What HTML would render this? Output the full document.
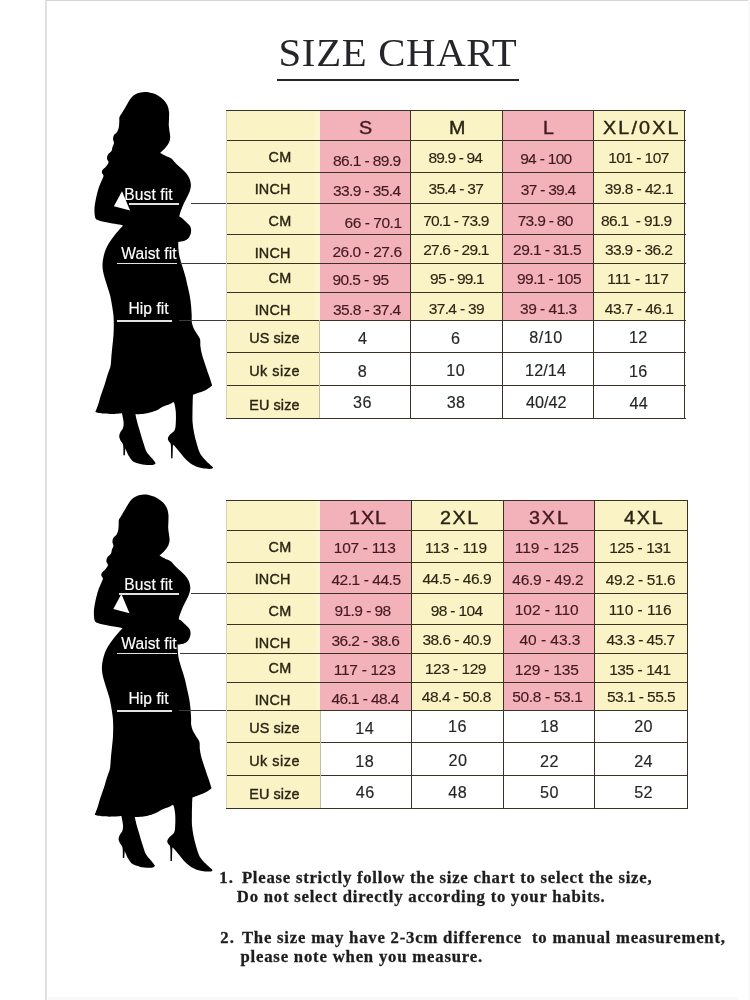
<!DOCTYPE html>
<html lang="en"><head><meta charset="utf-8"><title>Size Chart</title>
<style>
html,body{margin:0;padding:0;background:#fff}
body{width:750px;height:1000px;position:relative;overflow:hidden;font-family:"Liberation Sans",sans-serif}
#frame{position:absolute;left:45.2px;top:0;width:704.8px;height:1000px;border-left:2px solid #e1e1e1;border-top:1px solid #d6d6d6;box-sizing:border-box}
#fr{position:absolute;left:748px;top:0;width:2px;height:1000px;background:#f8f8f8}
#fb{position:absolute;left:48px;top:997px;width:690px;height:3px;background:#f9f9f9}
.f,.l,.t{position:absolute}
.l{background:#3a3226}
.t{white-space:nowrap;line-height:1;margin:0;padding:0}
.ttl{font-family:"Liberation Serif",serif;font-size:40.8px;color:#26262a}
.nt{font-family:"Liberation Serif",serif;font-weight:bold;font-size:16.7px;color:#1d1d1d;-webkit-text-stroke:0.3px #1d1d1d}
.sl{font-size:15.6px;color:#fff;-webkit-text-stroke:0.15px #fff}
.hd{font-size:18.8px;color:#2a2415;-webkit-text-stroke:0.4px currentColor}
.lb{font-size:14.4px;color:#2a2415;-webkit-text-stroke:0.4px #2a2415}
.dv{font-size:15.5px;color:#2d2614;-webkit-text-stroke:0.15px currentColor}
.dw{font-size:16.2px;color:#262626;-webkit-text-stroke:0.15px currentColor}
.p{color:#431a22}
.w{color:#222}
svg{position:absolute;left:0;top:0}
</style></head><body>
<div id="frame"></div><div id="fr"></div><div id="fb"></div>

<div class="l" style="left:276.8px;top:79.1px;width:242px;height:1.7px;background:#26262a"></div>
<svg width="750" height="1000" viewBox="0 0 750 1000">
<defs><path id="sil" fill-rule="evenodd" d="M144.5 91.9C147.0 91.8 149.6 92.4 151.9 93.0C154.2 93.6 156.3 94.5 158.3 95.7C160.3 96.9 162.2 98.3 163.7 99.9C165.2 101.5 166.5 103.3 167.4 105.3C168.3 107.3 168.7 109.4 169.0 111.7C169.3 114.0 169.0 116.8 169.0 119.1C169.0 121.4 168.7 123.4 168.8 125.5C168.9 127.6 169.4 129.9 169.6 131.9C169.8 133.9 170.3 135.6 170.2 137.4C170.1 139.2 169.7 141.1 168.9 142.8C168.1 144.5 166.8 146.1 165.6 147.6C164.4 149.1 162.5 150.7 161.6 151.6C160.7 152.5 160.2 153.0 160.2 153.0C160.2 153.0 163.6 154.8 165.4 155.7C167.2 156.6 169.8 157.5 171.3 158.6C172.8 159.7 173.4 160.9 174.5 162.0C175.6 163.1 176.3 163.8 177.6 165.0C178.8 166.2 180.6 167.7 182.0 169.0C183.4 170.3 184.8 171.6 186.0 173.0C187.2 174.4 188.2 176.0 189.0 177.5C189.8 179.0 190.2 180.6 190.5 182.0C190.8 183.4 191.0 184.7 190.9 186.0C190.8 187.3 190.5 188.7 190.1 190.0C189.7 191.3 189.3 192.5 188.6 194.0C187.9 195.5 186.9 197.3 186.1 199.0C185.3 200.7 184.3 202.3 183.6 204.0C182.8 205.7 182.2 207.5 181.6 209.0C181.0 210.5 180.5 211.7 180.1 213.0C179.7 214.3 179.3 216.6 179.3 216.6C179.3 216.6 181.8 218.0 183.0 219.0C184.2 220.0 185.4 221.3 186.6 222.5C187.8 223.7 189.2 224.8 190.0 226.0C190.8 227.2 191.0 228.7 191.1 230.0C191.2 231.3 191.0 232.7 190.6 234.0C190.2 235.3 189.5 236.9 188.6 238.0C187.7 239.1 186.3 240.0 185.0 240.6C183.7 241.2 182.1 241.4 181.0 241.6C179.9 241.8 178.3 242.0 178.3 242.0C178.3 242.0 178.2 244.0 178.3 246.0C178.4 248.0 178.6 251.3 179.0 254.0C179.4 256.7 180.3 259.6 181.0 262.0C181.7 264.4 182.3 266.0 183.0 268.4C183.7 270.8 184.6 273.5 185.4 276.4C186.2 279.3 186.9 282.9 187.6 286.0C188.3 289.1 189.0 291.8 189.6 295.0C190.2 298.2 190.7 301.7 191.0 305.0C191.3 308.3 191.6 312.2 191.7 315.0C191.8 317.8 191.5 319.8 191.8 322.0C192.1 324.2 192.6 326.0 193.5 328.0C194.4 330.0 195.9 332.2 197.0 334.0C198.1 335.8 199.4 337.0 200.0 339.0C200.6 341.0 200.1 343.7 200.4 346.0C200.7 348.3 201.0 350.5 201.6 353.0C202.2 355.5 203.1 358.2 204.0 361.0C204.9 363.8 206.1 367.2 207.0 370.0C207.9 372.8 208.7 374.9 209.6 377.5C210.5 380.1 212.2 385.5 212.2 385.5C212.2 385.5 208.8 388.2 206.7 389.4C204.5 390.6 201.6 391.7 199.3 392.6C197.0 393.5 193.0 394.8 193.0 394.8C193.0 394.8 192.8 399.1 192.7 402.0C192.6 404.9 192.5 408.6 192.5 412.0C192.5 415.4 192.3 419.0 192.6 422.5C192.9 426.0 193.4 429.5 194.1 433.0C194.8 436.5 195.6 440.0 196.7 443.5C197.8 447.0 198.7 451.0 200.4 454.0C202.1 457.0 204.6 459.2 206.7 461.4C208.8 463.6 213.1 467.2 213.1 467.2C213.1 467.2 213.2 468.6 211.4 468.8C209.6 469.0 205.4 468.9 202.5 468.3C199.6 467.8 196.7 466.8 194.1 465.5C191.5 464.2 189.0 462.4 186.7 460.3C184.4 458.2 182.3 455.3 180.4 453.0C178.5 450.7 176.4 448.1 175.2 446.7C173.9 445.3 172.9 444.7 172.9 444.7C172.9 444.7 172.6 458.2 172.6 458.2C172.6 458.2 171.1 458.2 171.1 458.2C171.1 458.2 171.2 447.4 170.8 444.6C170.4 441.8 169.4 442.4 168.9 441.4C168.4 440.3 167.7 439.4 167.9 438.3C168.1 437.2 168.9 436.0 170.0 434.6C171.1 433.2 173.7 431.9 174.7 429.9C175.7 427.9 175.6 425.5 175.8 422.5C176.0 419.5 176.0 415.0 175.8 412.0C175.6 409.0 175.1 406.4 174.7 404.7C174.3 403.0 173.6 402.0 173.6 402.0C173.6 402.0 170.7 403.8 168.9 404.6C167.1 405.4 164.3 406.0 162.6 406.8C160.8 407.6 160.0 408.6 158.4 409.4C156.8 410.2 154.8 411.0 153.2 411.6C151.5 412.2 150.3 412.6 148.5 413.0C146.7 413.4 144.7 413.9 142.5 414.1C140.3 414.3 135.4 414.3 135.4 414.3C135.4 414.3 136.5 419.4 137.3 422.5C138.1 425.6 139.4 429.5 140.4 433.0C141.4 436.5 142.6 440.4 143.6 443.5C144.6 446.6 145.3 449.4 146.7 451.9C148.1 454.3 150.5 456.4 152.0 458.2C153.5 460.0 155.6 462.9 155.6 462.9C155.6 462.9 155.2 464.1 154.1 464.5C153.0 464.9 151.1 465.1 148.8 465.0C146.5 464.9 143.0 464.6 140.4 464.0C137.8 463.4 135.0 462.7 133.1 461.4C131.2 460.1 130.2 458.3 128.9 456.1C127.6 453.9 125.3 448.2 125.3 448.2C125.3 448.2 124.9 455.2 124.9 455.2C124.9 455.2 123.4 455.2 123.4 455.2C123.4 455.2 123.6 447.6 123.1 445.1C122.6 442.6 121.2 441.9 120.5 440.4C119.8 438.9 119.2 437.6 119.2 436.2C119.2 434.8 119.8 433.4 120.5 432.0C121.2 430.6 122.6 429.4 123.1 427.8C123.6 426.2 123.7 424.4 123.6 422.5C123.5 420.6 122.9 417.8 122.6 416.2C122.3 414.6 122.0 413.2 122.0 413.2C122.0 413.2 116.3 413.8 113.1 413.9C109.9 414.0 105.6 413.9 102.6 413.6C99.6 413.3 95.3 412.1 95.3 412.1C95.3 412.1 97.0 407.9 98.0 405.0C99.0 402.1 99.9 398.3 101.0 395.0C102.1 391.7 103.4 388.3 104.5 385.0C105.6 381.7 106.6 377.8 107.5 375.0C108.4 372.2 109.4 370.0 110.0 368.0C110.6 366.0 110.7 365.2 110.9 363.0C111.2 360.8 111.2 358.0 111.5 355.0C111.8 352.0 112.2 348.3 112.5 345.0C112.8 341.7 113.3 338.3 113.5 335.0C113.7 331.7 113.8 328.3 113.8 325.0C113.8 321.7 113.8 318.7 113.4 315.0C113.0 311.3 112.2 306.3 111.6 303.0C111.0 299.7 110.7 297.7 110.0 295.0C109.3 292.3 108.3 289.7 107.5 287.0C106.7 284.3 105.8 281.7 105.0 279.0C104.2 276.3 103.4 273.5 103.0 271.0C102.6 268.5 102.4 266.3 102.5 264.0C102.6 261.7 103.0 259.3 103.5 257.0C104.0 254.7 104.6 252.3 105.5 250.0C106.4 247.7 107.6 245.3 109.0 243.0C110.4 240.7 112.3 238.2 114.0 236.0C115.7 233.8 117.5 231.7 119.0 230.0C120.5 228.3 123.2 225.6 123.2 225.6C123.2 225.6 121.2 225.0 119.0 224.6C116.8 224.2 113.1 223.6 110.0 223.0C106.9 222.4 102.8 221.7 100.5 221.0C98.2 220.3 97.0 220.0 96.0 219.0C95.0 218.0 95.0 216.8 94.7 215.0C94.5 213.2 94.4 210.3 94.5 208.0C94.6 205.7 95.1 203.3 95.5 201.0C95.9 198.7 96.4 196.3 97.0 194.0C97.6 191.7 98.2 189.2 99.0 187.0C99.8 184.8 100.8 182.8 101.5 181.0C102.2 179.2 103.4 177.3 103.5 176.0C103.6 174.7 102.2 174.0 102.0 173.0C101.8 172.0 101.8 171.1 102.5 170.0C103.2 168.9 105.0 167.8 106.0 166.5C107.0 165.2 108.3 163.8 108.5 162.5C108.7 161.2 107.1 159.8 107.0 158.5C106.9 157.2 107.2 155.8 108.0 154.5C108.8 153.2 110.8 152.2 111.5 151.0C112.2 149.8 112.1 148.3 112.5 147.0C112.9 145.7 113.9 144.3 114.0 143.0C114.1 141.7 113.0 140.3 113.0 139.0C113.0 137.7 113.3 136.2 114.0 135.0C114.7 133.8 116.4 133.0 117.2 131.7C118.0 130.4 118.6 128.7 118.9 127.0C119.2 125.3 119.2 123.2 119.3 121.5C119.4 119.8 119.0 118.5 119.5 117.0C120.0 115.5 121.1 114.3 122.1 112.7C123.1 111.1 124.1 109.4 125.3 107.4C126.5 105.5 127.8 102.8 129.0 101.0C130.2 99.2 130.9 98.0 132.2 96.7C133.5 95.5 134.9 94.3 137.0 93.5C139.1 92.7 142.0 92.0 144.5 91.9Z M122.0 191.3 L130.1 210.6 L113.9 206.2 Z"/></defs>
<use href="#sil" fill="#000"/>
<use href="#sil" fill="#000" transform="translate(-0.6 402.7)"/>
</svg>
<div class="f" style="left:226.4px;top:110.7px;width:93.7px;height:307.7px;background:#faf3c5"></div>
<div class="f" style="left:319.5px;top:110.7px;width:90.8px;height:209.7px;background:#f3b1b9"></div>
<div class="f" style="left:410.3px;top:110.7px;width:92.1px;height:209.7px;background:#faf3c5"></div>
<div class="f" style="left:502.4px;top:110.7px;width:91.4px;height:209.7px;background:#f3b1b9"></div>
<div class="f" style="left:593.8px;top:110.7px;width:91.2px;height:209.7px;background:#faf3c5"></div>
<div class="f" style="left:315.0px;top:110.7px;width:4.5px;height:209.7px;background:#fcf6d0"></div>
<div class="l" style="left:226.4px;top:110.0px;width:459.2px;height:1.25px"></div>
<div class="l" style="left:226.4px;top:140.0px;width:459.2px;height:1.25px"></div>
<div class="l" style="left:226.4px;top:172.0px;width:459.2px;height:1.25px"></div>
<div class="l" style="left:226.4px;top:203.0px;width:459.2px;height:1.25px"></div>
<div class="l" style="left:226.4px;top:234.0px;width:459.2px;height:1.25px"></div>
<div class="l" style="left:226.4px;top:263.0px;width:459.2px;height:1.25px"></div>
<div class="l" style="left:226.4px;top:292.0px;width:459.2px;height:1.25px"></div>
<div class="l" style="left:226.4px;top:320.0px;width:459.2px;height:1.25px"></div>
<div class="l" style="left:226.4px;top:352.0px;width:459.2px;height:1.25px"></div>
<div class="l" style="left:226.4px;top:385.0px;width:459.2px;height:1.25px"></div>
<div class="l" style="left:226.4px;top:418.0px;width:459.2px;height:1.25px"></div>
<div class="l" style="left:410.0px;top:110.7px;width:1.25px;height:307.7px"></div>
<div class="l" style="left:502.0px;top:110.7px;width:1.25px;height:307.7px"></div>
<div class="l" style="left:593.0px;top:110.7px;width:1.25px;height:307.7px"></div>
<div class="l" style="left:684.0px;top:110.7px;width:1.25px;height:307.7px"></div>
<div class="f" style="left:319.0px;top:320.4px;width:1px;height:98.0px;background:#c2bda3"></div>
<div class="f" style="left:225.9px;top:110.7px;width:1px;height:307.7px;background:#d8d2b4"></div>
<div class="f" style="left:226.4px;top:500.9px;width:94.2px;height:307.4px;background:#faf3c5"></div>
<div class="f" style="left:320.0px;top:500.9px;width:91.5px;height:209.6px;background:#f3b1b9"></div>
<div class="f" style="left:411.5px;top:500.9px;width:92.0px;height:209.6px;background:#faf3c5"></div>
<div class="f" style="left:503.5px;top:500.9px;width:91.5px;height:209.6px;background:#f3b1b9"></div>
<div class="f" style="left:595.0px;top:500.9px;width:92.3px;height:209.6px;background:#faf3c5"></div>
<div class="f" style="left:315.5px;top:500.9px;width:4.5px;height:209.6px;background:#fcf6d0"></div>
<div class="l" style="left:226.4px;top:500.0px;width:461.5px;height:1.25px"></div>
<div class="l" style="left:226.4px;top:530.0px;width:461.5px;height:1.25px"></div>
<div class="l" style="left:226.4px;top:562.0px;width:461.5px;height:1.25px"></div>
<div class="l" style="left:226.4px;top:593.0px;width:461.5px;height:1.25px"></div>
<div class="l" style="left:226.4px;top:624.0px;width:461.5px;height:1.25px"></div>
<div class="l" style="left:226.4px;top:653.0px;width:461.5px;height:1.25px"></div>
<div class="l" style="left:226.4px;top:682.0px;width:461.5px;height:1.25px"></div>
<div class="l" style="left:226.4px;top:710.0px;width:461.5px;height:1.25px"></div>
<div class="l" style="left:226.4px;top:742.0px;width:461.5px;height:1.25px"></div>
<div class="l" style="left:226.4px;top:775.0px;width:461.5px;height:1.25px"></div>
<div class="l" style="left:226.4px;top:808.0px;width:461.5px;height:1.25px"></div>
<div class="l" style="left:411.0px;top:500.9px;width:1.25px;height:307.4px"></div>
<div class="l" style="left:503.0px;top:500.9px;width:1.25px;height:307.4px"></div>
<div class="l" style="left:594.0px;top:500.9px;width:1.25px;height:307.4px"></div>
<div class="l" style="left:687.0px;top:500.9px;width:1.25px;height:307.4px"></div>
<div class="f" style="left:320.0px;top:710.5px;width:1px;height:97.8px;background:#c2bda3"></div>
<div class="f" style="left:225.9px;top:500.9px;width:1px;height:307.4px;background:#d8d2b4"></div>
<div class="f" style="left:128.7px;top:203.3px;width:50.3px;height:1.6px;background:#e2e2e2"></div>
<div class="l" style="left:190.8px;top:203.0px;width:35.6px;height:1.3px;background:#3c3c3c"></div>
<div class="f" style="left:117.2px;top:262.5px;width:60.2px;height:1.6px;background:#e2e2e2"></div>
<div class="l" style="left:179.8px;top:263.0px;width:46.6px;height:1.3px;background:#3c3c3c"></div>
<div class="f" style="left:117.4px;top:320.0px;width:54.4px;height:1.6px;background:#e2e2e2"></div>
<div class="l" style="left:178.6px;top:320.0px;width:47.8px;height:1.3px;background:#3c3c3c"></div>
<div class="f" style="left:119.0px;top:593.3px;width:60.0px;height:1.6px;background:#e2e2e2"></div>
<div class="l" style="left:190.8px;top:593.0px;width:35.6px;height:1.3px;background:#3c3c3c"></div>
<div class="f" style="left:117.2px;top:652.5px;width:60.2px;height:1.6px;background:#e2e2e2"></div>
<div class="l" style="left:179.8px;top:653.0px;width:46.6px;height:1.3px;background:#3c3c3c"></div>
<div class="f" style="left:117.4px;top:710.0px;width:54.4px;height:1.6px;background:#e2e2e2"></div>
<div class="l" style="left:178.6px;top:710.0px;width:47.8px;height:1.3px;background:#3c3c3c"></div>
<div class="t ttl" id="t0" style="left:278.50px;top:33.00px;letter-spacing:0.677px">SIZE CHART</div>
<div class="t nt" id="t1" style="left:219.30px;top:870.00px;letter-spacing:1.100px">1.</div>
<div class="t nt" id="t2" style="left:241.90px;top:870.00px;letter-spacing:0.762px">Please strictly follow the size chart to select the size,</div>
<div class="t nt" id="t3" style="left:236.80px;top:889.00px;letter-spacing:0.779px">Do not select directly according to your habits.</div>
<div class="t nt" id="t4" style="left:220.30px;top:930.00px;letter-spacing:1.100px">2.</div>
<div class="t nt" id="t5" style="left:241.90px;top:930.00px;letter-spacing:0.794px">The size may have 2-3cm difference&nbsp; to manual measurement,</div>
<div class="t nt" id="t6" style="left:240.40px;top:949.00px;letter-spacing:0.815px">please note when you measure.</div>
<div class="t sl" id="t7" style="left:124.30px;top:187.00px;letter-spacing:0.081px">Bust fit</div>
<div class="t sl" id="t8" style="left:121.30px;top:246.00px;letter-spacing:0.046px">Waist fit</div>
<div class="t sl" id="t9" style="left:128.50px;top:301.00px;letter-spacing:0.045px">Hip fit</div>
<div class="t sl" id="t10" style="left:124.30px;top:577.00px;letter-spacing:0.081px">Bust fit</div>
<div class="t sl" id="t11" style="left:121.30px;top:636.00px;letter-spacing:0.046px">Waist fit</div>
<div class="t sl" id="t12" style="left:128.50px;top:691.00px;letter-spacing:0.045px">Hip fit</div>
<div class="t hd p" id="t13" style="left:359.20px;top:119.00px;transform:scaleX(1.05);transform-origin:0 0">S</div>
<div class="t hd" id="t14" style="left:449.35px;top:119.00px;transform:scaleX(1.05);transform-origin:0 0">M</div>
<div class="t hd p" id="t15" style="left:543.02px;top:119.00px;transform:scaleX(1.05);transform-origin:0 0">L</div>
<div class="t hd" id="t16" style="left:603.30px;top:119.00px;letter-spacing:2.053px;transform:scaleX(1.05);transform-origin:0 0">XL/0XL</div>
<div class="t lb" id="t17" style="left:268.58px;top:150.00px;letter-spacing:0.350px">CM</div>
<div class="t lb" id="t18" style="left:254.70px;top:182.00px;letter-spacing:0.172px">INCH</div>
<div class="t lb" id="t19" style="left:268.58px;top:214.00px;letter-spacing:0.350px">CM</div>
<div class="t lb" id="t20" style="left:254.70px;top:246.00px;letter-spacing:0.172px">INCH</div>
<div class="t lb" id="t21" style="left:268.58px;top:271.00px;letter-spacing:0.350px">CM</div>
<div class="t lb" id="t22" style="left:254.70px;top:303.00px;letter-spacing:0.172px">INCH</div>
<div class="t lb" id="t23" style="left:249.20px;top:331.00px;letter-spacing:0.121px">US size</div>
<div class="t lb" id="t24" style="left:249.20px;top:364.00px;letter-spacing:0.521px">Uk size</div>
<div class="t lb" id="t25" style="left:249.20px;top:398.00px;letter-spacing:0.121px">EU size</div>
<div class="t dv p" id="t26" style="left:333.00px;top:153.00px;letter-spacing:-0.599px">86.1 - 89.9</div>
<div class="t dv p" id="t27" style="left:333.00px;top:183.00px;letter-spacing:-0.609px">33.9 - 35.4</div>
<div class="t dv p" id="t28" style="left:344.60px;top:215.00px;letter-spacing:-0.470px">66 - 70.1</div>
<div class="t dv p" id="t29" style="left:332.40px;top:244.00px;letter-spacing:-0.449px">26.0 - 27.6</div>
<div class="t dv p" id="t30" style="left:332.40px;top:272.00px;letter-spacing:-0.558px">90.5 - 95</div>
<div class="t dv p" id="t31" style="left:333.00px;top:302.00px;letter-spacing:-0.609px">35.8 - 37.4</div>
<div class="t dw" id="t32" style="left:358.05px;top:330.00px">4</div>
<div class="t dw" id="t33" style="left:357.75px;top:363.00px">8</div>
<div class="t dw" id="t34" style="left:353.07px;top:394.00px;letter-spacing:0.350px">36</div>
<div class="t dv" id="t35" style="left:428.50px;top:150.00px;letter-spacing:-0.858px">89.9 - 94</div>
<div class="t dv" id="t36" style="left:428.50px;top:181.00px;letter-spacing:-0.733px">35.4 - 37</div>
<div class="t dv" id="t37" style="left:423.20px;top:213.00px;letter-spacing:-0.789px">70.1 - 73.9</div>
<div class="t dv" id="t38" style="left:423.20px;top:242.00px;letter-spacing:-0.789px">27.6 - 29.1</div>
<div class="t dv" id="t39" style="left:430.10px;top:271.00px;letter-spacing:-0.833px">95 - 99.1</div>
<div class="t dv" id="t40" style="left:428.80px;top:301.00px;letter-spacing:-0.670px">37.4 - 39</div>
<div class="t dw" id="t41" style="left:451.00px;top:330.00px">6</div>
<div class="t dw" id="t42" style="left:446.32px;top:362.00px;letter-spacing:0.350px">10</div>
<div class="t dw" id="t43" style="left:446.67px;top:394.00px;letter-spacing:0.350px">38</div>
<div class="t dv p" id="t44" style="left:520.20px;top:151.00px;letter-spacing:-0.694px">94 - 100</div>
<div class="t dv p" id="t45" style="left:520.80px;top:182.00px;letter-spacing:-0.720px">37 - 39.4</div>
<div class="t dv p" id="t46" style="left:517.70px;top:213.00px;letter-spacing:-0.695px">73.9 - 80</div>
<div class="t dv p" id="t47" style="left:513.10px;top:242.00px;letter-spacing:-0.569px">29.1 - 31.5</div>
<div class="t dv p" id="t48" style="left:517.10px;top:271.00px;letter-spacing:-0.598px">99.1 - 105</div>
<div class="t dv p" id="t49" style="left:520.00px;top:301.00px;letter-spacing:-0.495px">39 - 41.3</div>
<div class="t dw" id="t50" style="left:529.20px;top:329.00px;letter-spacing:0.499px">8/10</div>
<div class="t dw" id="t51" style="left:525.00px;top:362.00px;letter-spacing:0.124px">12/14</div>
<div class="t dw" id="t52" style="left:526.00px;top:394.00px;letter-spacing:-0.026px">40/42</div>
<div class="t dv" id="t53" style="left:608.20px;top:150.00px;letter-spacing:-0.535px">101 - 107</div>
<div class="t dv" id="t54" style="left:604.80px;top:181.00px;letter-spacing:-0.539px">39.8 - 42.1</div>
<div class="t dv" id="t55" style="left:601.10px;top:213.00px;letter-spacing:-0.672px">86.1&nbsp; - 91.9</div>
<div class="t dv" id="t56" style="left:604.90px;top:242.00px;letter-spacing:-0.609px">33.9 - 36.2</div>
<div class="t dv" id="t57" style="left:607.30px;top:271.00px;letter-spacing:-0.053px">111 - 117</div>
<div class="t dv" id="t58" style="left:604.80px;top:301.00px;letter-spacing:-0.509px">43.7 - 46.1</div>
<div class="t dw" id="t59" style="left:629.02px;top:329.00px;letter-spacing:0.350px">12</div>
<div class="t dw" id="t60" style="left:629.02px;top:363.00px;letter-spacing:0.350px">16</div>
<div class="t dw" id="t61" style="left:629.52px;top:395.00px;letter-spacing:0.350px">44</div>
<div class="t hd p" id="t62" style="left:349.25px;top:509.00px;letter-spacing:0.919px;transform:scaleX(1.05);transform-origin:0 0">1XL</div>
<div class="t hd" id="t63" style="left:440.20px;top:509.00px;letter-spacing:1.514px;transform:scaleX(1.05);transform-origin:0 0">2XL</div>
<div class="t hd p" id="t64" style="left:529.10px;top:509.00px;letter-spacing:1.800px;transform:scaleX(1.05);transform-origin:0 0">3XL</div>
<div class="t hd" id="t65" style="left:624.30px;top:509.00px;letter-spacing:1.704px;transform:scaleX(1.05);transform-origin:0 0">4XL</div>
<div class="t lb" id="t66" style="left:268.58px;top:540.00px;letter-spacing:0.350px">CM</div>
<div class="t lb" id="t67" style="left:254.70px;top:572.00px;letter-spacing:0.172px">INCH</div>
<div class="t lb" id="t68" style="left:268.58px;top:604.00px;letter-spacing:0.350px">CM</div>
<div class="t lb" id="t69" style="left:254.70px;top:636.00px;letter-spacing:0.172px">INCH</div>
<div class="t lb" id="t70" style="left:268.58px;top:661.00px;letter-spacing:0.350px">CM</div>
<div class="t lb" id="t71" style="left:254.70px;top:693.00px;letter-spacing:0.172px">INCH</div>
<div class="t lb" id="t72" style="left:249.20px;top:721.00px;letter-spacing:0.121px">US size</div>
<div class="t lb" id="t73" style="left:249.20px;top:754.00px;letter-spacing:0.521px">Uk size</div>
<div class="t lb" id="t74" style="left:249.20px;top:787.00px;letter-spacing:0.121px">EU size</div>
<div class="t dv p" id="t75" style="left:333.80px;top:540.00px;letter-spacing:-0.291px">107 - 113</div>
<div class="t dv p" id="t76" style="left:331.40px;top:572.00px;letter-spacing:-0.439px">42.1 - 44.5</div>
<div class="t dv p" id="t77" style="left:334.50px;top:603.00px;letter-spacing:-0.558px">91.9 - 98</div>
<div class="t dv p" id="t78" style="left:331.40px;top:633.00px;letter-spacing:-0.569px">36.2 - 38.6</div>
<div class="t dv p" id="t79" style="left:333.80px;top:662.00px;letter-spacing:-0.291px">117 - 123</div>
<div class="t dv p" id="t80" style="left:331.40px;top:691.00px;letter-spacing:-0.609px">46.1 - 48.4</div>
<div class="t dw" id="t81" style="left:355.37px;top:720.00px;letter-spacing:0.350px">14</div>
<div class="t dw" id="t82" style="left:355.37px;top:753.00px;letter-spacing:0.350px">18</div>
<div class="t dw" id="t83" style="left:355.87px;top:784.00px;letter-spacing:0.350px">46</div>
<div class="t dv" id="t84" style="left:425.10px;top:540.00px;letter-spacing:-0.159px">113 - 119</div>
<div class="t dv" id="t85" style="left:422.40px;top:571.00px;letter-spacing:-0.499px">44.5 - 46.9</div>
<div class="t dv" id="t86" style="left:430.70px;top:603.00px;letter-spacing:-0.637px">98 - 104</div>
<div class="t dv" id="t87" style="left:422.40px;top:632.00px;letter-spacing:-0.519px">38.6 - 40.9</div>
<div class="t dv" id="t88" style="left:424.90px;top:661.00px;letter-spacing:-0.497px">123 - 129</div>
<div class="t dv" id="t89" style="left:421.80px;top:689.00px;letter-spacing:-0.459px">48.4 - 50.8</div>
<div class="t dw" id="t90" style="left:448.12px;top:718.00px;letter-spacing:0.350px">16</div>
<div class="t dw" id="t91" style="left:448.62px;top:752.00px;letter-spacing:0.350px">20</div>
<div class="t dw" id="t92" style="left:448.32px;top:784.00px;letter-spacing:0.350px">48</div>
<div class="t dv p" id="t93" style="left:514.80px;top:540.00px;letter-spacing:-0.041px">119 - 125</div>
<div class="t dv p" id="t94" style="left:512.30px;top:572.00px;letter-spacing:-0.279px">46.9 - 49.2</div>
<div class="t dv p" id="t95" style="left:514.80px;top:602.00px;letter-spacing:-0.066px">102 - 110</div>
<div class="t dv p" id="t96" style="left:519.50px;top:632.00px;letter-spacing:-0.033px">40 - 43.3</div>
<div class="t dv p" id="t97" style="left:514.80px;top:662.00px;letter-spacing:-0.185px">129 - 135</div>
<div class="t dv p" id="t98" style="left:512.30px;top:689.00px;letter-spacing:-0.359px">50.8 - 53.1</div>
<div class="t dw" id="t99" style="left:540.27px;top:718.00px;letter-spacing:0.350px">18</div>
<div class="t dw" id="t100" style="left:540.12px;top:753.00px;letter-spacing:0.350px">22</div>
<div class="t dw" id="t101" style="left:540.12px;top:784.00px;letter-spacing:0.350px">50</div>
<div class="t dv" id="t102" style="left:609.20px;top:540.00px;letter-spacing:-0.447px">125 - 131</div>
<div class="t dv" id="t103" style="left:605.70px;top:572.00px;letter-spacing:-0.419px">49.2 - 51.6</div>
<div class="t dv" id="t104" style="left:608.70px;top:602.00px;letter-spacing:-0.034px">110 - 116</div>
<div class="t dv" id="t105" style="left:606.50px;top:632.00px;letter-spacing:-0.549px">43.3 - 45.7</div>
<div class="t dv" id="t106" style="left:609.20px;top:662.00px;letter-spacing:-0.447px">135 - 141</div>
<div class="t dv" id="t107" style="left:607.00px;top:689.00px;letter-spacing:-0.549px">53.1 - 55.5</div>
<div class="t dw" id="t108" style="left:634.22px;top:718.00px;letter-spacing:0.350px">20</div>
<div class="t dw" id="t109" style="left:634.22px;top:753.00px;letter-spacing:0.350px">24</div>
<div class="t dw" id="t110" style="left:634.22px;top:784.00px;letter-spacing:0.350px">52</div>
</body></html>
